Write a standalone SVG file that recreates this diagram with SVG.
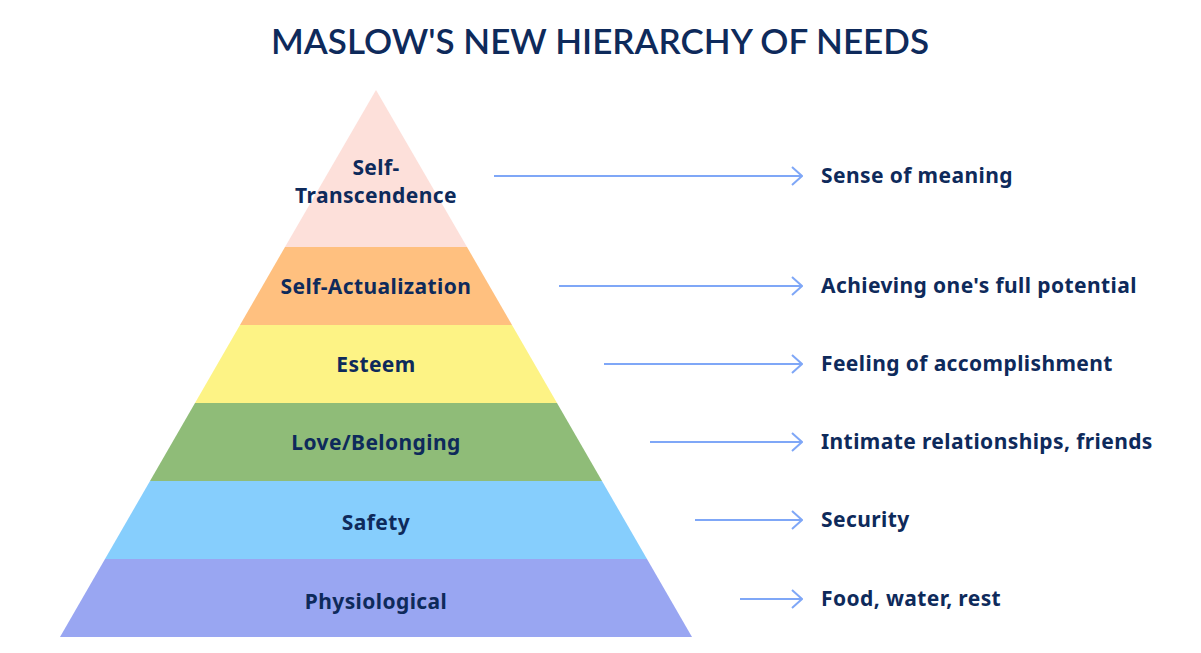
<svg xmlns="http://www.w3.org/2000/svg" width="1201" height="653" viewBox="0 0 1201 653">
<defs>
<marker id="arr" viewBox="0 0 12 20" refX="11" refY="10" markerWidth="12" markerHeight="20" markerUnits="userSpaceOnUse" orient="auto">
<path d="M1 1 L11 10 L1 19" fill="none" stroke="#7fa7f7" stroke-width="2"/>
</marker>
<style>
.t{font-family:"Noto Sans",Lato,sans-serif;font-weight:700;fill:#0e2a5b;font-size:21px;letter-spacing:0.4px}
.c{text-anchor:middle}
.ln{stroke:#7fa7f7;stroke-width:2;fill:none}
</style>
</defs>
<rect width="1201" height="653" fill="#ffffff"/>
<text x="600" y="54" class="c" style="font-size:35px;font-weight:600;font-family:Lato,'Noto Sans',sans-serif;fill:#0e2a5b">MASLOW'S NEW HIERARCHY OF NEEDS</text>
<g id="level-self-transcendence">
<polygon points="376,90 467,247 285,247" fill="#fde0da"/>
<text x="376" y="175" class="t c">Self-</text>
<text x="376" y="203" class="t c">Transcendence</text>
</g>
<g id="level-self-actualization">
<polygon points="285,247 467,247 512,325 240,325" fill="#ffc07f"/>
<text x="376" y="294" class="t c">Self-Actualization</text>
</g>
<g id="level-esteem">
<polygon points="240,325 512,325 557,403 195,403" fill="#fdf385"/>
<text x="376" y="372" class="t c">Esteem</text>
</g>
<g id="level-love">
<polygon points="195,403 557,403 602,481 150,481" fill="#8fbc78"/>
<text x="376" y="450" class="t c">Love/Belonging</text>
</g>
<g id="level-safety">
<polygon points="150,481 602,481 647,559 105,559" fill="#86cefd"/>
<text x="376" y="530" class="t c">Safety</text>
</g>
<g id="level-physiological">
<polygon points="105,559 647,559 692,637 60,637" fill="#99a6f2"/>
<text x="376" y="609" class="t c">Physiological</text>
</g>
<g id="connectors">
<line x1="494" y1="176" x2="802" y2="176" class="ln" marker-end="url(#arr)"/>
<line x1="559" y1="286" x2="802" y2="286" class="ln" marker-end="url(#arr)"/>
<line x1="604" y1="364" x2="802" y2="364" class="ln" marker-end="url(#arr)"/>
<line x1="650" y1="442" x2="802" y2="442" class="ln" marker-end="url(#arr)"/>
<line x1="695" y1="520" x2="802" y2="520" class="ln" marker-end="url(#arr)"/>
<line x1="740" y1="599" x2="802" y2="599" class="ln" marker-end="url(#arr)"/>
</g>
<g id="outcome-meaning"><text x="821" y="183" class="t">Sense of meaning</text></g>
<g id="outcome-potential"><text x="821" y="293" class="t">Achieving one's full potential</text></g>
<g id="outcome-accomplishment"><text x="821" y="371" class="t">Feeling of accomplishment</text></g>
<g id="outcome-relationships"><text x="821" y="449" class="t">Intimate relationships, friends</text></g>
<g id="outcome-security"><text x="821" y="527" class="t">Security</text></g>
<g id="outcome-food"><text x="821" y="606" class="t">Food, water, rest</text></g>
</svg>
